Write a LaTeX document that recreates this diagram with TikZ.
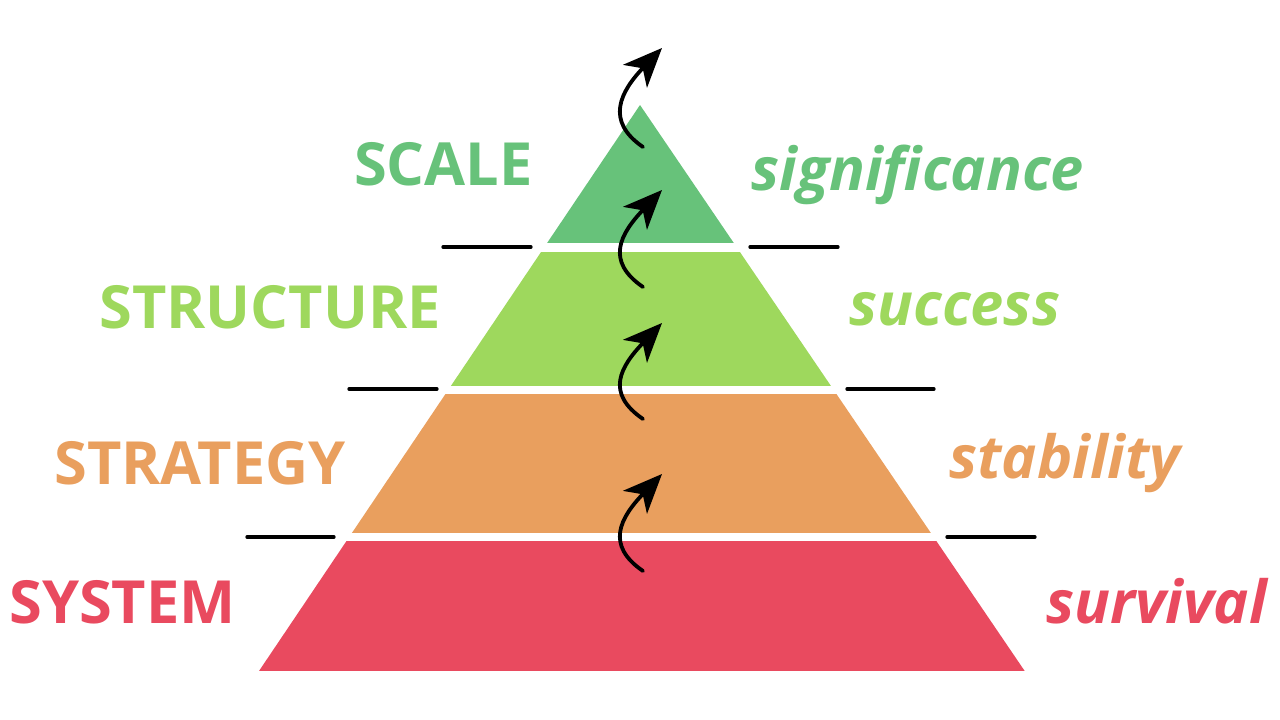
\documentclass[tikz,border=0pt]{standalone}
\usepackage{fontspec}
\setmainfont{Open Sans}
\usetikzlibrary{arrows.meta}
\definecolor{ScaleGreen}{HTML}{67C27A}
\definecolor{StructGreen}{HTML}{9ED85D}
\definecolor{StratOrange}{HTML}{E99F5E}
\definecolor{SysRed}{HTML}{E94A5F}
\tikzset{
  % Left level name
  level_label/.style={
    anchor=base east, inner sep=0pt,
    font=\bfseries\fontsize{59.5}{62}\selectfont
  },
  % Right goal word
  goal_label/.style={
    anchor=base west, inner sep=0pt,
    font=\bfseries\itshape\fontsize{59.5}{62}\selectfont
  },
  % Short rule beside a tier gap
  sep_line/.style={
    line width=3.3pt, line cap=round, draw=black
  },
  % Curved arrow up the pyramid
  climb_arrow/.style={
    -{Stealth[length=39pt,width=33pt,inset=11pt]},
    line width=3.8pt, line cap=round, draw=black
  }
}
\begin{document}
\begin{tikzpicture}[x=1pt, y=-1pt]

\useasboundingbox (0,0) rectangle (1280,720);

% Pyramid tiers
\begin{scope}
  \clip (640,105) -- (1024.7,671) -- (259,671) -- cycle;
  \foreach \ytop/\ybot/\col in {105/243/ScaleGreen, 252/386/StructGreen,
                                394/533/StratOrange, 541/671/SysRed}
    \fill[\col] (200,\ytop) rectangle (1100,\ybot);
\end{scope}

% Level names
\node[level_label, text=ScaleGreen]  (scale)     at (533,185) {SCALE};
\node[level_label, text=StructGreen] (structure) at (441,328) {STRUCTURE};
\node[level_label, text=StratOrange] (strategy)  at (346,484) {STRATEGY};
\node[level_label, text=SysRed]      (system)    at (236,623) {SYSTEM};

% Goals
\node[goal_label, text=ScaleGreen]  (significance) at (751,190) {significance};
\node[goal_label, text=StructGreen] (success)      at (849,325) {success};
\node[goal_label, text=StratOrange] (stability)    at (949,478) {stability};
\node[goal_label, text=SysRed]      (survival)     at (1046,623) {survival};

% Gap rules
\draw[sep_line] (443,247) -- (531,247);
\draw[sep_line] (750,247) -- (838,247);
\draw[sep_line] (349,389) -- (437,389);
\draw[sep_line] (847,389) -- (934,389);
\draw[sep_line] (247,537) -- (334,537);
\draw[sep_line] (947,537) -- (1035,537);

% Arrows
\foreach \n/\ys/\yt in {1/147/48, 2/287/190, 3/419/323, 4/571/474} {
  \coordinate (arr\n_from) at (643,\ys);
  \coordinate (arr\n_to)   at (662,\yt);
  \draw[climb_arrow] (arr\n_from) .. controls +(-38,-26) and +(-42,44) .. (arr\n_to);
}

\end{tikzpicture}
\end{document}
